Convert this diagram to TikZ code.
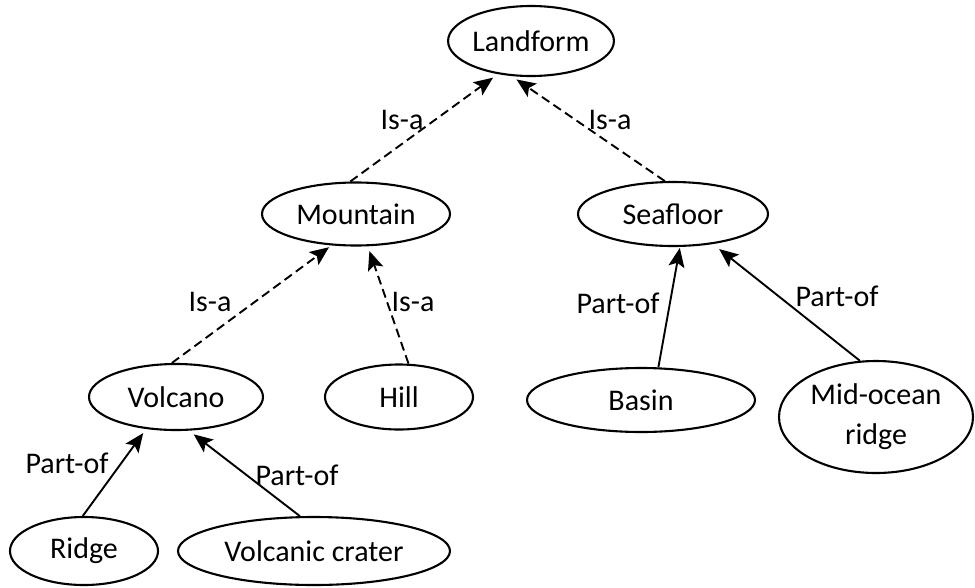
\documentclass[tikz,border=0pt]{standalone}
\usepackage{fontspec}
\setmainfont{Carlito}
\usetikzlibrary{shapes.geometric,arrows.meta}
\tikzset{
  concept/.style={ellipse, draw=black, line width=2.1pt, inner sep=0pt, align=center,
    font=\fontsize{30}{40}\selectfont},
  lbl/.style={inner sep=0pt, font=\fontsize{30}{36}\selectfont},
  tipstyle/.style={-{Stealth[length=19pt,width=16pt,inset=4pt]}},
  isa/.style={line width=1.9pt, dash pattern=on 9pt off 5pt, tipstyle},
  partof/.style={line width=1.9pt, tipstyle},
}
\begin{document}
\begin{tikzpicture}[x=1pt,y=-1pt]
\useasboundingbox (0,0) rectangle (975,587);
\node[concept, minimum width=152pt, minimum height=70pt] (landform) at (531,41) {Landform};
\node[concept, minimum width=188pt, minimum height=63pt] (mountain) at (356,214) {Mountain};
\node[concept, minimum width=190pt, minimum height=64pt] (seafloor) at (673,214) {Seafloor};
\node[concept, minimum width=174pt, minimum height=66pt] (volcano) at (176,397) {Volcano};
\node[concept, minimum width=148pt, minimum height=65pt] (hill) at (399,397) {Hill};
\node[concept, minimum width=228pt, minimum height=64pt] (basin) at (641,400) {Basin};
\node[concept, minimum width=194pt, minimum height=112pt] (midocean) at (876,417) {Mid-ocean\\ridge};
\node[concept, minimum width=148pt, minimum height=68pt] (ridge) at (84,551) {Ridge};
\node[concept, minimum width=272pt, minimum height=68pt] (crater) at (314,551) {Volcanic crater};

\draw[isa, shorten >=6pt] (mountain.100) -- (landform.225);
\draw[isa, shorten >=6pt] (seafloor.104) -- (landform.241);
\draw[isa, shorten >=3pt] (volcano.97) -- (mountain.232);
\draw[isa, shorten >=5pt] (hill.74) -- (mountain.290);
\draw[partof, shorten >=1pt] (basin.62) -- (seafloor.282);
\draw[partof, shorten >=8pt] (midocean.106) -- (seafloor.323);
\draw[partof, shorten >=5pt] (ridge.92) -- (volcano.227);
\draw[partof, shorten >=6pt] (crater.112) -- (volcano.291);

\node[lbl] (l1) at (402,120) {Is-a};
\node[lbl] (l2) at (610,120) {Is-a};
\node[lbl] (l3) at (210,302) {Is-a};
\node[lbl] (l4) at (413,302) {Is-a};
\node[lbl] (l5) at (67,463) {Part-of};
\node[lbl] (l6) at (297,475) {Part-of};
\node[lbl] (l7) at (618,303) {Part-of};
\node[lbl] (l8) at (837,296) {Part-of};
\end{tikzpicture}
\end{document}
